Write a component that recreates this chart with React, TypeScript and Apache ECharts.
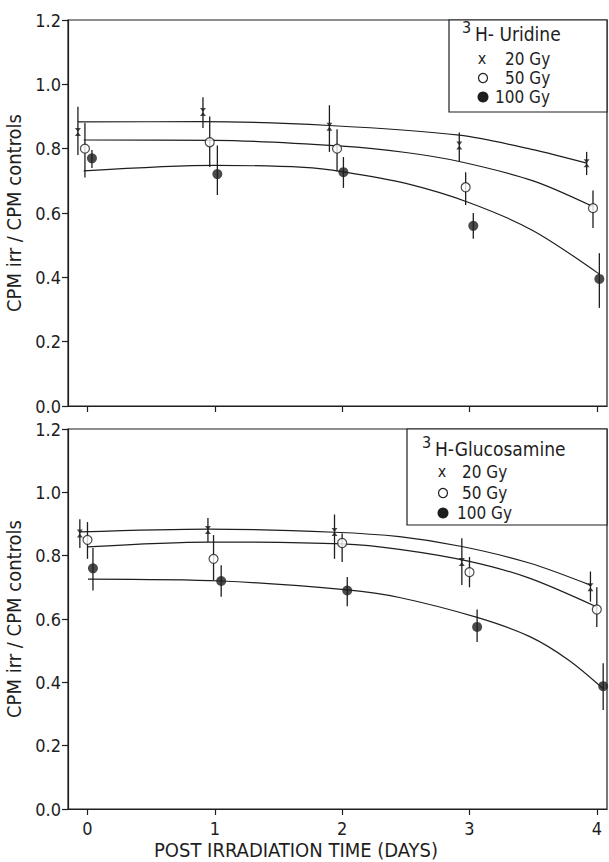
import React, { useEffect, useRef } from "react";
import * as echarts from "echarts";

// ---------- data ----------
const dayTicks = [0, 1, 2, 3, 4];
const yTicks = [0, 0.2, 0.4, 0.6, 0.8, 1.0, 1.2];

// Top panel: 3H-Uridine  [x (days, slightly offset), value, low, high]
const uri20 = [[-0.075, 0.852, 0.78, 0.93], [0.907, 0.914, 0.864, 0.96], [1.9, 0.868, 0.79, 0.935], [2.92, 0.81, 0.76, 0.85], [3.92, 0.755, 0.718, 0.79]];
const uri50 = [[-0.02, 0.80, 0.71, 0.88], [0.96, 0.82, 0.743, 0.90], [1.96, 0.80, 0.73, 0.86], [2.97, 0.68, 0.625, 0.727], [3.97, 0.615, 0.553, 0.67]];
const uri100 = [[0.035, 0.77, 0.74, 0.796], [1.02, 0.721, 0.656, 0.81], [2.01, 0.727, 0.678, 0.774], [3.03, 0.56, 0.52, 0.60], [4.02, 0.395, 0.305, 0.475]];
const uriCurve20 = [[-0.075, 0.883], [0.9, 0.884], [1.9, 0.872], [2.92, 0.842], [3.5, 0.797], [3.92, 0.755]];
const uriCurve50 = [[-0.03, 0.827], [1, 0.826], [2, 0.808], [2.5, 0.788], [2.92, 0.76], [3.5, 0.70], [3.97, 0.62]];
const uriCurve100 = [[-0.03, 0.731], [1, 0.748], [1.7, 0.742], [2.01, 0.728], [2.5, 0.692], [3, 0.632], [3.5, 0.545], [4.02, 0.41]];

// Bottom panel: 3H-Glucosamine
const glu20 = [[-0.06, 0.87, 0.824, 0.915], [0.946, 0.881, 0.843, 0.919], [1.94, 0.875, 0.79, 0.93], [2.94, 0.78, 0.707, 0.855], [3.95, 0.70, 0.655, 0.75]];
const glu50 = [[0.0, 0.85, 0.79, 0.906], [0.99, 0.79, 0.723, 0.865], [2.0, 0.84, 0.78, 0.87], [3.0, 0.748, 0.70, 0.796], [4.0, 0.63, 0.575, 0.70]];
const glu100 = [[0.043, 0.76, 0.69, 0.824], [1.05, 0.72, 0.67, 0.77], [2.04, 0.69, 0.64, 0.733], [3.06, 0.575, 0.527, 0.63], [4.05, 0.388, 0.313, 0.46]];
const gluCurve20 = [[-0.06, 0.875], [0.95, 0.884], [1.94, 0.874], [2.45, 0.86], [2.94, 0.829], [3.47, 0.777], [3.95, 0.707]];
const gluCurve50 = [[0.0, 0.828], [0.95, 0.843], [2.0, 0.837], [2.45, 0.82], [3.0, 0.782], [3.47, 0.729], [4.0, 0.638]];
const gluCurve100 = [[0.004, 0.726], [1.05, 0.72], [2.04, 0.692], [2.45, 0.668], [3.06, 0.605], [3.47, 0.545], [3.78, 0.47], [4.05, 0.38]];

const yName = "CPM irr / CPM controls";
const xName = "POST IRRADIATION TIME (DAYS)";
const doseLabels = ["20 Gy", "50 Gy", "100 Gy"];
const panelTitles = ["H- Uridine", "H-Glucosamine"];

// ---------- styling ----------
const INK = "#1e1e1e";
const FONT = "'DejaVu Sans Condensed', 'DejaVu Sans', sans-serif";
const HOURGLASS = "path://M0,0L10,0L5,6L10,12L0,12L5,6Z";

function errorBars(data: number[][], gi: number) {
  return {
    type: "custom",
    xAxisIndex: gi,
    yAxisIndex: gi,
    data: data.map((d) => [d[0], d[2], d[3]]),
    renderItem: (params: any, api: any) => {
      const x = api.value(0);
      const p1 = api.coord([x, api.value(1)]);
      const p2 = api.coord([x, api.value(2)]);
      return {
        type: "line",
        shape: { x1: p1[0], y1: p1[1], x2: p2[0], y2: p2[1] },
        style: { stroke: INK, lineWidth: 1.3 },
      };
    },
    z: 3,
  };
}

function curve(data: number[][], gi: number) {
  return {
    type: "line",
    xAxisIndex: gi,
    yAxisIndex: gi,
    data,
    smooth: 0.3,
    showSymbol: false,
    symbol: "none",
    lineStyle: { color: INK, width: 1.2 },
    z: 2,
  };
}

function markers(data: number[][], gi: number, kind: number) {
  const base: any = {
    type: "scatter",
    xAxisIndex: gi,
    yAxisIndex: gi,
    data: data.map((d) => [d[0], d[1]]),
    z: 5,
  };
  if (kind === 0) {
    base.symbol = HOURGLASS;
    base.symbolSize = [6, 8];
    base.itemStyle = { color: INK };
  } else if (kind === 1) {
    base.symbol = "circle";
    base.symbolSize = 9;
    base.itemStyle = { color: "#fff", borderColor: INK, borderWidth: 1.2 };
  } else {
    base.symbol = "circle";
    base.symbolSize = 10;
    base.itemStyle = { color: INK };
  }
  return base;
}

function panelSeries(sets: number[][][], curves: number[][][], gi: number) {
  const out: any[] = [];
  curves.forEach((c) => out.push(curve(c, gi)));
  sets.forEach((s) => out.push(errorBars(s, gi)));
  sets.forEach((s, k) => out.push(markers(s, gi, k)));
  return out;
}

function legendBox(x: number, y: number, w: number, h: number, title: string, tx: number, ty: number, sx: number, tx20: number, tx100: number, rows: number[]) {
  const f = `17px ${FONT}`;
  const row = (text: string, px: number, py: number) => ({
    type: "text",
    x: px,
    y: py,
    style: { text, font: f, lineHeight: 16, fill: INK, textVerticalAlign: "middle" },
    z: 11,
  });
  return [
    { type: "rect", shape: { x, y, width: w, height: h }, style: { fill: "#fff", stroke: INK, lineWidth: 1.2 }, z: 10 },
    { type: "text", x: tx - 13, y: ty - 7, style: { text: "3", font: `16px ${FONT}`, fill: INK, textVerticalAlign: "middle" }, z: 11 },
    { type: "text", x: tx, y: ty, style: { text: title, font: `19px ${FONT}`, fill: INK, textVerticalAlign: "middle" }, z: 11 },
    { type: "text", x: sx, y: rows[0] - 1, style: { text: "x", font: `16px ${FONT}`, lineHeight: 14, fill: INK, textAlign: "center", textVerticalAlign: "middle" }, z: 11 },
    row(doseLabels[0], tx20, rows[0]),
    { type: "circle", shape: { cx: sx + 1, cy: rows[1], r: 4.5 }, style: { fill: "#fff", stroke: INK, lineWidth: 1.2 }, z: 11 },
    row(doseLabels[1], tx20, rows[1]),
    { type: "circle", shape: { cx: sx + 1, cy: rows[2], r: 5.5 }, style: { fill: INK }, z: 11 },
    row(doseLabels[2], tx100, rows[2]),
  ];
}

export default function App() {
  const ref = useRef<HTMLDivElement>(null);
  useEffect(() => {
    if (!ref.current) return;
    const chart = echarts.init(ref.current, undefined, { renderer: "svg" });
    const xAxisBase = (gi: number, labels: boolean) => ({
      type: "value",
      gridIndex: gi,
      min: -0.153,
      max: 4.08,
      axisLine: { show: true, onZero: false, lineStyle: { color: INK, width: 1.2 } },
      axisTick: { show: true, customValues: dayTicks, length: 6, inside: false, lineStyle: { color: INK, width: 1.2 } },
      axisLabel: {
        show: labels,
        customValues: dayTicks,
        color: INK,
        fontFamily: FONT,
        fontSize: 18,
        margin: 10,
      },
      splitLine: { show: false },
    });
    const yAxisBase = (gi: number) => ({
      type: "value",
      gridIndex: gi,
      min: 0,
      max: 1.2,
      interval: 0.2,
      name: yName,
      nameLocation: "middle",
      nameGap: 34,
      nameTextStyle: { color: INK, fontFamily: FONT, fontSize: 20 },
      axisLine: { show: true, onZero: false, lineStyle: { color: INK, width: 1.2 } },
      axisTick: { show: true, length: 6, lineStyle: { color: INK, width: 1.2 } },
      axisLabel: {
        color: INK,
        fontFamily: FONT,
        fontSize: 18,
        margin: 7,
        formatter: (v: number) => (yTicks.some((t) => Math.abs(t - v) < 1e-6) ? v.toFixed(1) : ""),
      },
      splitLine: { show: false },
    });

    chart.setOption({
      animation: false,
      backgroundColor: "#fff",
      grid: [
        { left: 68, top: 20, width: 539, height: 386, show: true, borderColor: INK, borderWidth: 1.2, backgroundColor: "transparent", outerBoundsMode: "none", containLabel: false },
        { left: 68, top: 429, width: 539, height: 380, show: true, borderColor: INK, borderWidth: 1.2, backgroundColor: "transparent", outerBoundsMode: "none", containLabel: false },
      ],
      xAxis: [xAxisBase(0, false), xAxisBase(1, true)],
      yAxis: [yAxisBase(0), yAxisBase(1)],
      series: [
        ...panelSeries([uri20, uri50, uri100], [uriCurve20, uriCurve50, uriCurve100], 0),
        ...panelSeries([glu20, glu50, glu100], [gluCurve20, gluCurve50, gluCurve100], 1),
      ],
      graphic: [
        ...legendBox(449, 20, 158, 92, panelTitles[0], 475, 34, 482, 505, 495, [59, 78, 97]),
        ...legendBox(407, 429, 200, 96, panelTitles[1], 435, 449, 442, 462, 457, [472, 493, 513]),
        {
          type: "text",
          x: 296,
          y: 850,
          style: { text: xName, font: `20px ${FONT}`, fill: INK, textAlign: "center", textVerticalAlign: "middle" },
        },
      ],
    });
    return () => chart.dispose();
  }, []);
  return <div ref={ref} style={{ position: "fixed", left: 0, top: 0, width: 609, height: 862, background: "#fff" }} />;
}
